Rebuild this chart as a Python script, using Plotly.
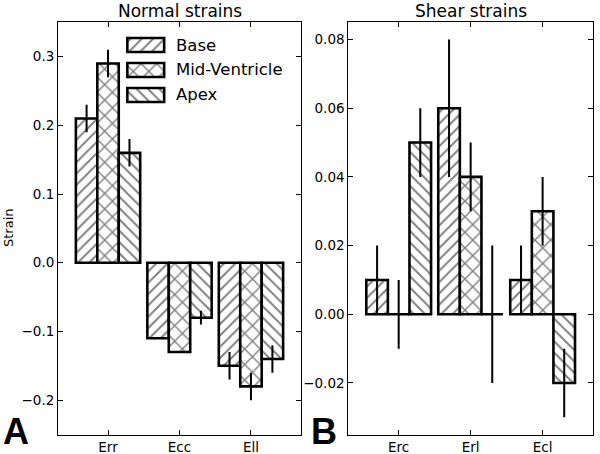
import plotly.graph_objects as go

# ---- data ----
normal_cats = ["Err", "Ecc", "Ell"]
shear_cats = ["Erc", "Erl", "Ecl"]
series_names = ["Base", "Mid-Ventricle", "Apex"]

normal_base = [0.21, -0.11, -0.15]
normal_mid = [0.29, -0.13, -0.18]
normal_apex = [0.16, -0.08, -0.14]
normal_base_err = [0.02, 0.0, 0.02]
normal_mid_err = [0.02, 0.0, 0.02]
normal_apex_err = [0.02, 0.01, 0.02]

shear_base = [0.01, 0.06, 0.01]
shear_mid = [0.00, 0.04, 0.03]
shear_apex = [0.05, 0.00, -0.02]
shear_base_err = [0.01, 0.02, 0.01]
shear_mid_err = [0.01, 0.01, 0.01]
shear_apex_err = [0.01, 0.02, 0.01]

hatches = ["/", "x", "\\"]
hatch_sizes = [8, 11, 8]

FONT = "DejaVu Sans"
W, H = 600, 454


def px_x(p):
    return p / W


def px_y(p):
    return 1 - p / H


fig = go.Figure()

normal_vals = [normal_base, normal_mid, normal_apex]
normal_errs = [normal_base_err, normal_mid_err, normal_apex_err]
shear_vals = [shear_base, shear_mid, shear_apex]
shear_errs = [shear_base_err, shear_mid_err, shear_apex_err]

for i, name in enumerate(series_names):
    for vals, errs, xa, ya in [(normal_vals, normal_errs, "x", "y"),
                               (shear_vals, shear_errs, "x2", "y2")]:
        fig.add_trace(go.Bar(
            x=list(range(3)), y=vals[i], name=name,
            xaxis=xa, yaxis=ya, showlegend=False,
            marker=dict(color="white",
                        line=dict(color="black", width=2.6),
                        pattern=dict(shape=hatches[i], fgcolor="black", bgcolor="white",
                                     size=hatch_sizes[i], solidity=0.24)),
            error_y=dict(type="data", array=errs[i], color="black",
                         thickness=2, width=0, visible=True),
        ))

# custom legend drawn as horizontal bars on a small axis
fig.add_trace(go.Bar(
    y=[0, 1, 2], x=[1, 1, 1], orientation="h", width=0.56,
    xaxis="x3", yaxis="y3", showlegend=False, hoverinfo="skip",
    marker=dict(color="white", line=dict(color="black", width=2.6),
                pattern=dict(shape=hatches, fgcolor="black", bgcolor="white",
                             size=hatch_sizes, solidity=0.24)),
))

axis_common = dict(showline=True, linecolor="black", linewidth=1, mirror="allticks",
                   ticks="inside", ticklen=5, tickcolor="black", tickwidth=1,
                   showgrid=False, zeroline=False, automargin=False,
                   tickfont=dict(family=FONT, size=13.5, color="black"))

top, bottom = 22.3, 434.5
fig.update_layout(
    width=W, height=H, margin=dict(l=0, r=0, t=0, b=0),
    paper_bgcolor="white", plot_bgcolor="white",
    barmode="group", bargap=0.1, bargroupgap=0,
    font=dict(family=FONT, color="black"),
    xaxis=dict(domain=[px_x(58), px_x(301)], range=[-0.7, 2.7],
               tickvals=[0, 1, 2], ticktext=normal_cats, anchor="y", **axis_common),
    yaxis=dict(domain=[px_y(bottom), px_y(top)], range=[-0.25, 0.35],
               tick0=0, dtick=0.1, tickformat=".1f", anchor="x", **axis_common),
    xaxis2=dict(domain=[px_x(348.3), px_x(593)], range=[-0.7, 2.7],
                tickvals=[0, 1, 2], ticktext=shear_cats, anchor="y2", **axis_common),
    yaxis2=dict(domain=[px_y(bottom), px_y(top)], range=[-0.035, 0.085],
                tick0=0, dtick=0.02, tickformat=".2f", anchor="x2", **axis_common),
    xaxis3=dict(domain=[px_x(125.5), px_x(166)], range=[-0.05, 1.05], visible=False,
                anchor="y3", fixedrange=True),
    yaxis3=dict(domain=[px_y(107.5), px_y(32.5)], range=[2.5, -0.5], visible=False,
                anchor="x3", fixedrange=True),
)

ann = []
for j, name in enumerate(series_names):
    ann.append(dict(x=px_x(174), y=px_y(45 + 24.75 * j), xref="paper", yref="paper",
                    text=name, showarrow=False, xanchor="left", yanchor="middle",
                    font=dict(family=FONT, size=16.5, color="black")))
ann.append(dict(x=px_x(179.5), y=px_y(11), xref="paper", yref="paper",
                text="Normal strains", showarrow=False, xanchor="center", yanchor="middle",
                font=dict(family=FONT, size=17, color="black")))
ann.append(dict(x=px_x(470.5), y=px_y(11), xref="paper", yref="paper",
                text="Shear strains", showarrow=False, xanchor="center", yanchor="middle",
                font=dict(family=FONT, size=17, color="black")))
ann.append(dict(x=px_x(8), y=px_y(228), xref="paper", yref="paper",
                text="Strain", showarrow=False, textangle=-90,
                xanchor="center", yanchor="middle",
                font=dict(family=FONT, size=13, color="black")))
LETTER_FONT = "Liberation Sans, Arial"
ann.append(dict(x=px_x(1), y=0, xref="paper", yref="paper",
                text="<b>A</b>", showarrow=False, xanchor="left", yanchor="bottom",
                font=dict(family=LETTER_FONT, size=36, color="black")))
ann.append(dict(x=px_x(309), y=0, xref="paper", yref="paper",
                text="<b>B</b>", showarrow=False, xanchor="left", yanchor="bottom",
                font=dict(family=LETTER_FONT, size=36, color="black")))
fig.update_layout(annotations=ann)

fig.write_html("out.html", config={"displayModeBar": False},
               post_script="document.body.style.margin='0px';document.body.style.overflow='hidden';")
